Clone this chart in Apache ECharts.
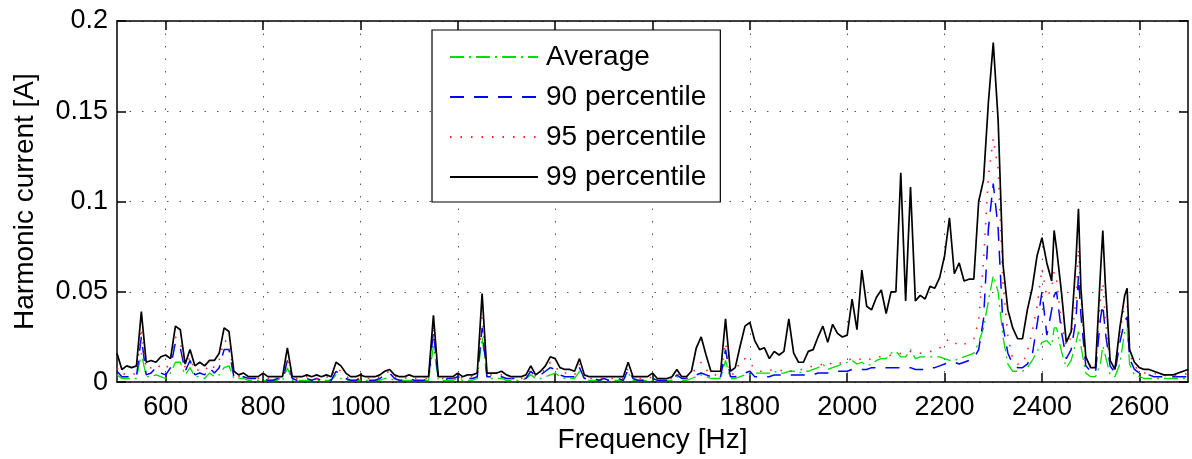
<!DOCTYPE html>
<html>
<head>
<meta charset="utf-8">
<script src="https://cdn.jsdelivr.net/npm/echarts@6/dist/echarts.min.js"></script>
<style>
  html, body { margin: 0; padding: 0; background: #fff; }
  #main { width: 1192px; height: 459px; }
</style>
</head>
<body>
<div id="main"></div>
<script>
// frequency grid [Hz]
const freq = [
  500, 510, 520, 530, 540, 550, 560, 570, 580, 590,
  600, 610, 620, 630, 640, 650, 660, 670, 680, 690,
  700, 710, 720, 730, 740, 750, 760, 770, 780, 790,
  800, 810, 820, 830, 840, 850, 860, 870, 880, 890,
  900, 910, 920, 930, 940, 950, 960, 970, 980, 990,
  1000, 1010, 1020, 1030, 1040, 1050, 1060, 1070, 1080, 1090,
  1100, 1110, 1120, 1130, 1140, 1150, 1160, 1170, 1180, 1190,
  1200, 1210, 1220, 1230, 1240, 1250, 1260, 1270, 1280, 1290,
  1300, 1310, 1320, 1330, 1340, 1350, 1360, 1370, 1380, 1390,
  1400, 1410, 1420, 1430, 1440, 1450, 1460, 1470, 1480, 1490,
  1500, 1510, 1520, 1530, 1540, 1550, 1560, 1570, 1580, 1590,
  1600, 1610, 1620, 1630, 1640, 1650, 1660, 1670, 1680, 1690,
  1700, 1710, 1720, 1730, 1740, 1750, 1760, 1770, 1780, 1790,
  1800, 1810, 1820, 1830, 1840, 1850, 1860, 1870, 1880, 1890,
  1900, 1910, 1920, 1930, 1940, 1950, 1960, 1970, 1980, 1990,
  2000, 2010, 2020, 2030, 2040, 2050, 2060, 2070, 2080, 2090,
  2100, 2110, 2120, 2130, 2140, 2150, 2160, 2170, 2180, 2190,
  2200, 2210, 2220, 2230, 2240, 2250, 2260, 2270, 2280, 2290,
  2300, 2310, 2320, 2330, 2340, 2350, 2360, 2370, 2380, 2390,
  2400, 2410, 2420, 2425, 2430, 2440, 2450, 2460, 2470, 2475,
  2480, 2490, 2500, 2510, 2520, 2525, 2530, 2540, 2550, 2560,
  2570, 2575, 2580, 2590, 2600, 2610, 2620, 2630, 2640, 2650,
  2660, 2670, 2680, 2690, 2700
];

// harmonic current [A]
const avg = [
  .004, .002, .002, .002, .002, .016, .003, .003, .004, .003,
  .002, .005, .011, .011, .004, .008, .003, .003, .002, .005,
  .003, .004, .008, .009, .002, .002, .002, .001, .001, .001,
  .001, .001, .001, .001, .001, .008, .001, .001, .001, .001,
  .001, .001, .001, .001, .001, .004, .002, .001, .001, .001,
  .001, .001, .001, .001, .001, .002, .002, .001, .001, .001,
  .001, .001, .001, .001, .001, .020, .001, .001, .001, .001,
  .002, .001, .001, .001, .002, .025, .002, .002, .002, .002,
  .001, .001, .001, .001, .002, .004, .002, .002, .003, .004,
  .005, .003, .002, .002, .002, .006, .002, .001, .001, .001,
  .001, .001, .001, .001, .001, .005, .001, .001, .001, .001,
  .001, .001, .001, .001, .001, .003, .001, .001, .002, .003,
  .004, .003, .002, .002, .002, .012, .002, .002, .003, .004,
  .004, .005, .005, .005, .005, .006, .005, .005, .006, .006,
  .005, .006, .006, .007, .008, .010, .007, .008, .009, .010,
  .011, .012, .010, .011, .009, .010, .012, .013, .013, .016,
  .017, .014, .014, .018, .013, .014, .014, .014, .014, .014,
  .013, .012, .012, .013, .014, .015, .016, .022, .030, .045,
  .059, .050, .025, .010, .006, .006, .006, .008, .012, .017,
  .022, .023, .020, .030, .030, .017, .008, .012, .022, .028,
  .020, .005, .003, .003, .010, .020, .015, .004, .003, .010,
  .028, .030, .010, .004, .003, .002, .002, .002, .002, .002,
  .002, .002, .002, .002, .002
];

const p90 = [
  .006, .003, .003, .003, .003, .025, .004, .005, .008, .005,
  .004, .008, .022, .019, .006, .012, .004, .005, .004, .008,
  .005, .008, .018, .018, .003, .002, .003, .002, .002, .002,
  .002, .001, .001, .002, .001, .012, .002, .001, .002, .002,
  .001, .002, .001, .002, .001, .006, .004, .002, .001, .001,
  .002, .001, .001, .001, .002, .004, .005, .002, .001, .001,
  .002, .001, .001, .001, .002, .028, .002, .001, .002, .002,
  .003, .002, .002, .002, .003, .030, .003, .003, .003, .003,
  .002, .002, .002, .002, .002, .006, .003, .004, .006, .008,
  .007, .004, .003, .003, .003, .008, .002, .002, .002, .001,
  .002, .001, .001, .002, .001, .007, .002, .001, .001, .001,
  .002, .001, .001, .001, .001, .004, .002, .002, .003, .004,
  .005, .004, .003, .003, .003, .018, .003, .003, .004, .005,
  .006, .003, .003, .003, .003, .004, .004, .004, .004, .004,
  .004, .004, .004, .004, .005, .005, .005, .005, .006, .006,
  .006, .007, .007, .007, .007, .008, .008, .008, .008, .008,
  .008, .008, .008, .008, .007, .007, .007, .008, .008, .009,
  .010, .011, .011, .010, .011, .012, .013, .018, .035, .085,
  .110, .085, .031, .016, .010, .008, .008, .010, .015, .032,
  .050, .026, .040, .048, .050, .028, .013, .018, .035, .059,
  .037, .009, .006, .005, .035, .043, .028, .009, .005, .022,
  .034, .036, .013, .007, .005, .004, .004, .003, .003, .003,
  .003, .003, .003, .003, .003
];

const p95 = [
  .008, .004, .005, .004, .005, .030, .007, .008, .010, .008,
  .007, .012, .025, .022, .008, .014, .006, .007, .006, .010,
  .008, .012, .023, .022, .004, .003, .004, .002, .002, .002,
  .003, .002, .002, .002, .002, .014, .002, .002, .002, .003,
  .002, .002, .002, .003, .002, .008, .006, .003, .002, .002,
  .002, .002, .002, .002, .003, .005, .006, .003, .002, .002,
  .003, .002, .002, .002, .002, .032, .002, .002, .002, .002,
  .004, .002, .003, .003, .004, .036, .004, .004, .004, .004,
  .003, .002, .002, .002, .003, .007, .003, .005, .007, .011,
  .009, .005, .005, .005, .004, .010, .003, .002, .002, .002,
  .002, .002, .002, .002, .002, .008, .002, .002, .002, .002,
  .003, .002, .002, .002, .002, .005, .002, .002, .004, .008,
  .011, .007, .004, .004, .004, .022, .004, .005, .012, .013,
  .010, .008, .006, .006, .007, .006, .006, .007, .006, .006,
  .007, .007, .008, .009, .009, .010, .009, .011, .010, .011,
  .012, .013, .012, .013, .012, .013, .014, .014, .014, .015,
  .015, .016, .016, .017, .017, .016, .016, .017, .017, .019,
  .022, .024, .022, .020, .021, .022, .024, .034, .067, .114,
  .135, .118, .055, .025, .013, .010, .010, .017, .028, .042,
  .063, .047, .052, .061, .057, .032, .020, .025, .045, .074,
  .048, .012, .009, .008, .046, .055, .035, .011, .006, .028,
  .043, .042, .016, .009, .006, .005, .005, .005, .004, .004,
  .003, .003, .004, .004, .005
];

const p99 = [
  .016, .007, .009, .008, .009, .039, .011, .012, .011, .014,
  .015, .013, .031, .029, .010, .018, .009, .011, .009, .012,
  .012, .016, .030, .028, .006, .004, .005, .003, .003, .003,
  .005, .003, .003, .003, .003, .019, .003, .003, .003, .004,
  .003, .004, .003, .004, .003, .011, .009, .005, .003, .003,
  .004, .003, .003, .003, .004, .006, .007, .004, .003, .003,
  .004, .003, .003, .003, .003, .037, .003, .003, .003, .003,
  .005, .003, .004, .004, .005, .049, .005, .005, .005, .006,
  .004, .003, .003, .003, .004, .009, .004, .006, .009, .014,
  .013, .008, .007, .007, .006, .013, .004, .003, .003, .003,
  .003, .003, .003, .003, .003, .011, .003, .003, .003, .003,
  .005, .002, .002, .002, .003, .007, .003, .003, .006, .019,
  .025, .015, .006, .006, .006, .035, .006, .008, .020, .031,
  .033, .023, .018, .019, .013, .017, .015, .017, .035, .016,
  .011, .011, .017, .018, .025, .031, .022, .032, .027, .025,
  .026, .046, .029, .062, .042, .040, .047, .051, .038, .050,
  .050, .116, .045, .108, .045, .048, .046, .053, .052, .058,
  .070, .091, .060, .066, .056, .057, .057, .100, .112, .155,
  .188, .145, .065, .040, .030, .024, .024, .040, .052, .070,
  .080, .066, .056, .084, .074, .050, .022, .028, .068, .096,
  .052, .014, .008, .008, .060, .084, .055, .012, .007, .030,
  .048, .052, .018, .011, .008, .007, .007, .006, .005, .004,
  .004, .004, .005, .006, .007
];

const seriesNames = ['Average', '90 percentile', '95 percentile', '99 percentile'];
const xTicks = [600, 800, 1000, 1200, 1400, 1600, 1800, 2000, 2200, 2400, 2600];

const font = 'Liberation Sans';
const dotted = { color: '#555', width: 1, type: [1.5, 11] };
const frame = { color: '#000', width: 1.5 };

var chartDom = document.getElementById('main');
var myChart = echarts.init(chartDom);

const pairs = vals => freq.map((f, i) => [f, vals[i]]);

var option = {
  animation: false,
  textStyle: { fontFamily: font },
  grid: { left: 117, right: 4, top: 21, bottom: 75 },
  legend: {
    data: seriesNames,
    orient: 'vertical',
    left: 432,
    top: 30,
    padding: [12, 14, 10, 17],
    itemWidth: 88,
    itemHeight: 14,
    itemGap: 10,
    borderColor: '#000',
    borderWidth: 1.2,
    backgroundColor: '#fff',
    itemStyle: { opacity: 0, borderWidth: 0 },
    textStyle: { fontFamily: font, fontSize: 28, color: '#000', lineHeight: 30, padding: [0, 0, 0, 3] }
  },
  xAxis: [
    {
      type: 'value',
      min: 500,
      max: 2700,
      position: 'bottom',
      name: 'Frequency [Hz]',
      nameLocation: 'middle',
      nameGap: 42,
      nameTextStyle: { fontFamily: font, fontSize: 28, color: '#000' },
      axisLine: { onZero: false, lineStyle: frame },
      axisTick: { inside: true, length: 9, customValues: xTicks, lineStyle: frame },
      axisLabel: {
        customValues: xTicks,
        fontFamily: font,
        fontSize: 27,
        color: '#000',
        margin: 12,
        formatter: v => String(v)
      },
      splitLine: { show: true, lineStyle: dotted }
    },
    {
      type: 'value',
      min: 500,
      max: 2700,
      position: 'top',
      axisLine: { onZero: false, lineStyle: frame },
      axisTick: { inside: true, length: 9, customValues: xTicks, lineStyle: frame },
      axisLabel: { show: false },
      splitLine: { show: false }
    }
  ],
  yAxis: [
    {
      type: 'value',
      min: 0,
      max: 0.2,
      interval: 0.05,
      name: 'Harmonic current [A]',
      nameLocation: 'middle',
      nameGap: 78,
      nameTextStyle: { fontFamily: font, fontSize: 28, color: '#000' },
      axisLine: { show: true, lineStyle: frame },
      axisTick: { show: true, inside: true, length: 9, lineStyle: frame },
      axisLabel: { fontFamily: font, fontSize: 27, color: '#000', margin: 9 },
      splitLine: { show: true, lineStyle: dotted }
    },
    {
      type: 'value',
      min: 0,
      max: 0.2,
      interval: 0.05,
      position: 'right',
      axisLine: { show: true, lineStyle: frame },
      axisTick: { show: true, inside: true, length: 9, lineStyle: frame },
      axisLabel: { show: false },
      splitLine: { show: false }
    }
  ],
  series: [
    {
      name: 'Average',
      type: 'line',
      symbol: 'none',
      data: pairs(avg),
      lineStyle: { color: '#00dd00', width: 1.3, type: [14, 5, 2, 5] },
      itemStyle: { color: '#00dd00' }
    },
    {
      name: '90 percentile',
      type: 'line',
      symbol: 'none',
      data: pairs(p90),
      lineStyle: { color: '#0000ff', width: 1.5, type: [14, 10] },
      itemStyle: { color: '#0000ff' }
    },
    {
      name: '95 percentile',
      type: 'line',
      symbol: 'none',
      data: pairs(p95),
      lineStyle: { color: '#ff2020', width: 1.6, type: [1.5, 9] },
      itemStyle: { color: '#ff2020' }
    },
    {
      name: '99 percentile',
      type: 'line',
      symbol: 'none',
      data: pairs(p99),
      lineStyle: { color: '#000', width: 1.7 },
      itemStyle: { color: '#000' }
    }
  ]
};

option && myChart.setOption(option);
</script>
</body>
</html>
